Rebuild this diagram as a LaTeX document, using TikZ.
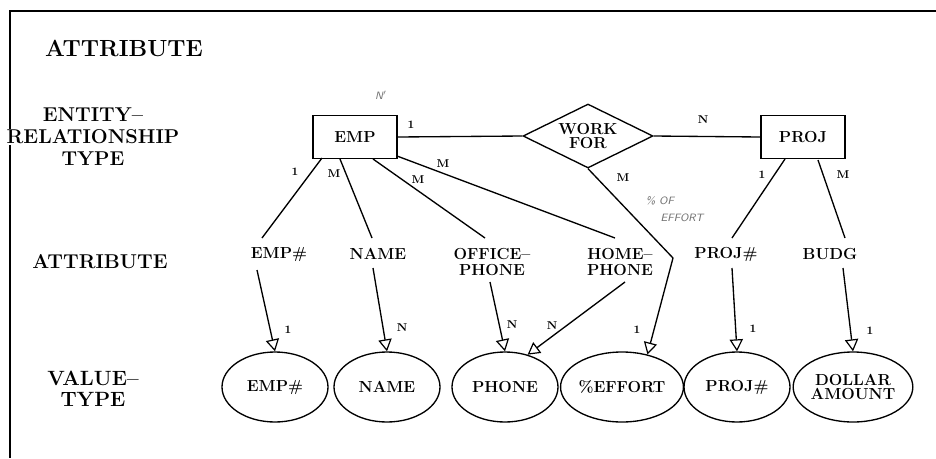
\documentclass[tikz,border=0pt]{standalone}
\usetikzlibrary{shapes.geometric,arrows.meta,calc}
\begin{document}
\begin{tikzpicture}[x=0.75pt,y=-0.75pt,
  head/.style={align=center, inner sep=0pt},
  attr/.style={align=center, inner sep=1pt, font=\bfseries\fontsize{12}{12}\selectfont},
  entity/.style={draw, line width=1pt, minimum width=63pt, minimum height=32pt,
    inner sep=0pt, font=\bfseries\fontsize{12}{12}\selectfont},
  rel/.style={draw, diamond, aspect=2, line width=1pt, minimum width=97.5pt,
    minimum height=48pt, inner sep=0pt, align=center,
    font=\bfseries\fontsize{12}{11}\selectfont},
  vtype/.style={draw, ellipse, line width=1pt, minimum width=79.5pt,
    minimum height=52.5pt, inner sep=0pt, align=center,
    font=\bfseries\fontsize{12}{10.5}\selectfont},
  card/.style={inner sep=0pt, font=\bfseries\fontsize{8.5}{8.5}\selectfont},
  link/.style={line width=1pt},
  maps/.style={link, -{Triangle[open, length=9pt, width=10pt, line width=0.9pt]}},
  note/.style={black!55, inner sep=0pt, font=\itshape\sffamily\fontsize{8}{8}\selectfont}
]
\useasboundingbox (0,0) rectangle (936,458);

% frame
\draw[line width=1.5pt] (936,11) -- (10,11) -- (10,129);
\draw[line width=1.5pt] (10,145) -- (10,458);

% row headings
\node[head, font=\bfseries\fontsize{17.5}{17.5}\selectfont] (hAttrTop) at (124,48) {ATTRIBUTE};
\node[head, font=\bfseries\fontsize{15}{16.5}\selectfont] (hER) at (93,137) {ENTITY--\\RELATIONSHIP\\TYPE};
\node[head, font=\bfseries\fontsize{15}{15}\selectfont] (hAttr) at (100,262) {ATTRIBUTE};
\node[head, font=\bfseries\fontsize{15.5}{15.5}\selectfont] (hVT) at (93,389) {VALUE--\\TYPE};

% entity-relationship level
\node[entity] (emp) at (355,137) {EMP};
\node[rel] (wf) at (588,136) {WORK\\FOR};
\node[entity] (proj) at (803,137) {PROJ};

% attribute level
\node[attr] (aEmpNo) at (279,254) {EMP\#};
\node[attr] (aName) at (378,254) {NAME};
\node[attr] (aOffice) at (492,262) {OFFICE--\\PHONE};
\node[attr] (aHome) at (620,262) {HOME--\\PHONE};
\node[attr] (aProjNo) at (726,254) {PROJ\#};
\node[attr] (aBudg) at (830,254) {BUDG};

% value-type level
\node[vtype] (vEmpNo) at (275,387) {EMP\#};
\node[vtype] (vName) at (387,387) {NAME};
\node[vtype] (vPhone) at (505,387) {PHONE};
\node[vtype] (vEffort) at (622,387) {\%EFFORT};
\node[vtype] (vProjNo) at (737,387) {PROJ\#};
\node[vtype] (vDollar) at (853,387) {DOLLAR\\AMOUNT};

% relationship links
\draw[link] (emp.east) -- (wf.west);
\draw[link] (wf.east) -- (proj.west);
\node[card] (c1) at (411,125) {1};
\node[card] (c2) at (703,120) {N};

% entity to attribute links
\draw[link] ($(emp)+(-33,21)$) -- ($(aEmpNo)+(-17,-16)$);
\draw[link] ($(emp)+(-15,22)$) -- ($(aName)+(-6,-16)$);
\draw[link] ($(emp)+(18,22)$) -- ($(aOffice)+(-7,-24)$);
\draw[link] ($(emp)+(42,19)$) -- ($(aHome)+(-5,-24)$);
\draw[link] ($(proj)+(-18,22)$) -- ($(aProjNo)+(6,-16)$);
\draw[link] ($(proj)+(15,23)$) -- ($(aBudg)+(15,-16)$);
\node[card] (c3) at (295,172) {1};
\node[card] (c4) at (334,174) {M};
\node[card] (c5) at (418,180) {M};
\node[card] (c6) at (443,164) {M};
\node[card] (c7) at (762,175) {1};
\node[card] (c8) at (843,175) {M};

% relationship attribute
\coordinate (bend) at (673,258);
\draw[maps] (wf.south) -- (bend) -- (vEffort.52);
\node[card] (c9) at (623,178) {M};
\node[card] (c10) at (637,330) {1};

% attribute to value-type maps
\draw[maps] ($(aEmpNo)+(-22,16)$) -- (vEmpNo.north);
\draw[maps] ($(aName)+(-5,14)$) -- (vName.north);
\draw[maps] ($(aOffice)+(-2,20)$) -- (vPhone.north);
\draw[maps] ($(aHome)+(5,20)$) -- (vPhone.55);
\draw[maps] ($(aProjNo)+(6,14)$) -- (vProjNo.north);
\draw[maps] ($(aBudg)+(13,14)$) -- (vDollar.north);
\node[card] (c11) at (288,330) {1};
\node[card] (c12) at (402,328) {N};
\node[card] (c13) at (512,325) {N};
\node[card] (c14) at (552,326) {N};
\node[card] (c15) at (753,329) {1};
\node[card] (c16) at (870,331) {1};

% pencil notes
\node[note] (n1) at (381,95) {N$'$};
\node[note] (n2) at (660,201) {\% OF};
\node[note] (n3) at (682,218) {EFFORT};
\end{tikzpicture}
\end{document}
